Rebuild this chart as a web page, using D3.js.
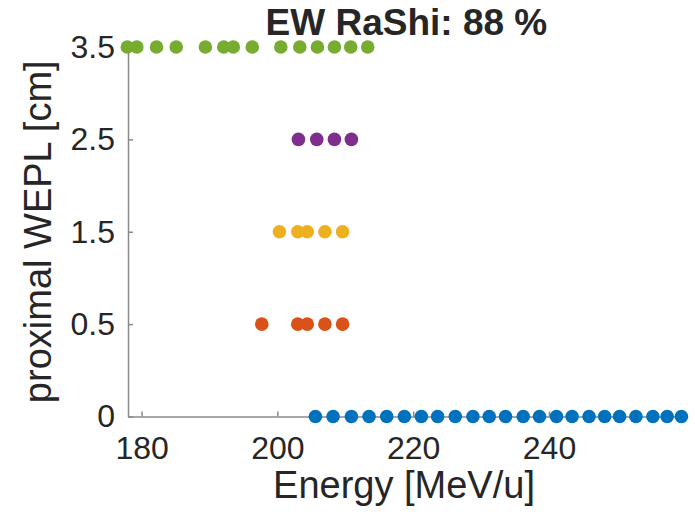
<!DOCTYPE html>
<html>
<head>
<meta charset="utf-8">
<script src="https://cdn.jsdelivr.net/npm/d3@7"></script>
<style>
  body { margin: 0; background: #ffffff; }
  text { font-family: "Liberation Sans", Arial, sans-serif; fill: #262626; }
  .axis path, .axis line { stroke: #8a8a8a; stroke-width: 1.5; }
</style>
</head>
<body>
<div id="chart"></div>
<script>
// proximal WEPL levels (shown as categories on the y axis)
const weplLabels = ["0", "0.5", "1.5", "2.5", "3.5"];
const xTicks = [180, 200, 220, 240];

// energies [MeV/u] per WEPL level
const energy0 = [205.6, 208.2, 210.9, 213.5, 216.1, 218.7, 221.2, 223.6, 226.2, 228.8, 231.2, 233.6,
  236.2, 238.6, 241.1, 243.4, 245.9, 248.2, 250.4, 252.8, 255.3, 257.4, 259.5];
const energy05 = [197.7, 203.0, 204.4, 207.0, 209.6];
const energy15 = [200.3, 203.0, 204.4, 207.0, 209.6];
const energy25 = [203.1, 205.8, 208.4, 210.9];
const energy35 = [177.9, 179.3, 182.2, 185.1, 189.4, 192.1, 193.5, 196.3, 200.5, 203.3, 205.9,
  208.4, 210.8, 213.3];

const seriesEnergies = [energy0, energy05, energy15, energy25, energy35];
const colors = ["#0072BD", "#D95319", "#EDB120", "#7E2F8E", "#77AC30"];

let width = 695, height = 514;

let svg = d3.select("#chart")
  .append("svg")
  .attr("width", width)
  .attr("height", height);

svg.append("rect").attr("width", width).attr("height", height).attr("fill", "#ffffff");

// scales
let xScale = d3.scaleLinear().domain([178, 260]).range([128, 684.8]);
let yScale = d3.scalePoint().domain(weplLabels).range([416.5, 47]);

// x axis, ticks pointing inward like matlab
let xAxis = svg.append("g")
  .attr("class", "axis")
  .attr("transform", "translate(0," + yScale("0") + ")")
  .call(d3.axisBottom(xScale).tickValues(xTicks).tickSizeInner(-5).tickSizeOuter(0).tickPadding(20));
xAxis.selectAll("text").style("font-size", "32px");

// y axis
let yAxis = svg.append("g")
  .attr("class", "axis")
  .attr("transform", "translate(" + xScale(178) + ",0)")
  .call(d3.axisLeft(yScale).tickSizeInner(-5).tickSizeOuter(0).tickPadding(13));
yAxis.selectAll("text").style("font-size", "32px");

// the dots, one group per WEPL level
seriesEnergies.forEach(function(vals, i) {
  svg.append("g")
    .selectAll("circle")
    .data(vals)
    .enter().append("circle")
      .attr("cx", d => xScale(d))
      .attr("cy", yScale(weplLabels[i]))
      .attr("r", 6.8)
      .attr("fill", colors[i]);
});

// labels and title
svg.append("text")
  .attr("x", 404)
  .attr("y", 498)
  .attr("text-anchor", "middle")
  .style("font-size", "38px")
  .text("Energy [MeV/u]");

svg.append("text")
  .attr("transform", "translate(51," + (yScale("1.5")) + ") rotate(-90)")
  .attr("text-anchor", "middle")
  .style("font-size", "38px")
  .text("proximal WEPL [cm]");

svg.append("text")
  .attr("x", (xScale(178) + xScale(260)) / 2)
  .attr("y", 35)
  .attr("text-anchor", "middle")
  .style("font-size", "37px")
  .style("font-weight", "bold")
  .text("EW RaShi: 88 %");
</script>
</body>
</html>
